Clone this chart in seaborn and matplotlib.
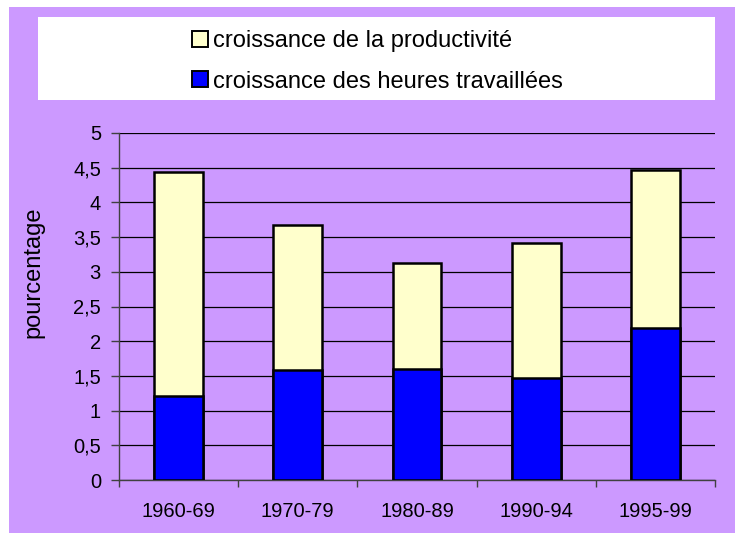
import numpy as np
import pandas as pd
import matplotlib
matplotlib.use('Agg')
import matplotlib.pyplot as plt
from matplotlib.patches import Rectangle, Patch
from matplotlib.ticker import FuncFormatter, FixedLocator
import seaborn as sns

# Data
periods = ['1960-69', '1970-79', '1980-89', '1990-94', '1995-99']
heures = [1.21, 1.58, 1.60, 1.47, 2.19]          # croissance des heures travaillées
productivite = [3.23, 2.10, 1.52, 1.95, 2.28]    # croissance de la productivité
yticks = [0, 0.5, 1, 1.5, 2, 2.5, 3, 3.5, 4, 4.5, 5]

label_prod = 'croissance de la productivité'
label_heures = 'croissance des heures travaillées'

df = pd.DataFrame({'periode': periods, 'heures': heures, 'productivite': productivite})
df['total'] = df['heures'] + df['productivite']

sns.set_style('white')
plt.rcParams['font.family'] = ['Liberation Sans', 'DejaVu Sans']
plt.rcParams['text.color'] = 'black'
plt.rcParams['axes.labelcolor'] = 'black'
plt.rcParams['xtick.color'] = 'black'
plt.rcParams['ytick.color'] = 'black'

purple = '#CC99FF'
yellow = '#FFFFCC'
blue = '#0000FF'

fig = plt.figure(figsize=(7.35, 5.35), dpi=100, facecolor='white')

# purple chart area and white legend panel
W, H = 735, 535
fig.patches.append(Rectangle((9 / W, 1 - 533 / H), 726 / W, 526 / H,
                             transform=fig.transFigure, facecolor=purple,
                             edgecolor='none', zorder=-2))
fig.patches.append(Rectangle((38 / W, 1 - 100 / H), 677 / W, 83 / H,
                             transform=fig.transFigure, facecolor='white',
                             edgecolor='none', zorder=-1))

ax = fig.add_axes([119 / W, 1 - 480 / H, 596 / W, 347 / H])
ax.set_zorder(2)
ax.set_facecolor(purple)

sns.barplot(data=df, x='periode', y='total', color=yellow, width=0.41,
            edgecolor='black', linewidth=1.8, saturation=1, ax=ax, zorder=3)
sns.barplot(data=df, x='periode', y='heures', color=blue, width=0.41,
            edgecolor='black', linewidth=1.8, saturation=1, ax=ax, zorder=4)

ax.set_ylim(0, 5)
ax.set_xlim(-0.5, len(periods) - 0.5)
ax.set_yticks(yticks)
ax.yaxis.set_major_formatter(FuncFormatter(lambda v, p: f'{v:g}'.replace('.', ',')))
ax.yaxis.grid(True, color='black', linewidth=0.9, zorder=1)
ax.set_axisbelow(True)

# tick marks between categories on x axis
ax.xaxis.set_minor_locator(FixedLocator(np.arange(-0.5, len(periods), 1.0)))
ax.tick_params(axis='x', which='major', length=0, pad=16, labelsize=14.5)
ax.tick_params(axis='x', which='minor', length=5, width=1, color='#404040',
               direction='out', bottom=True)
ax.tick_params(axis='y', which='major', length=6, width=1, color='#404040',
               direction='out', left=True, pad=7, labelsize=14.5)

for side in ['top', 'right']:
    ax.spines[side].set_visible(False)
for side in ['left', 'bottom']:
    ax.spines[side].set_color('#404040')
    ax.spines[side].set_linewidth(1)

ax.set_xlabel('')
ax.set_ylabel('pourcentage', fontsize=17)
ax.yaxis.set_label_coords(-0.125, (480 - 272.5) / 347)

handles = [Patch(facecolor=yellow, edgecolor='black', linewidth=1.4, label=label_prod),
           Patch(facecolor=blue, edgecolor='black', linewidth=1.4, label=label_heures)]
fig.legend(handles=handles, loc='center left',
           bbox_to_anchor=(191.7 / W, 1 - 61.5 / H), borderaxespad=0, borderpad=0,
           frameon=False, fontsize=17, handlelength=0.68, handleheight=0.66,
           handletextpad=0.22, labelspacing=0.78)

fig.savefig('out.png', dpi=100, facecolor='white')
